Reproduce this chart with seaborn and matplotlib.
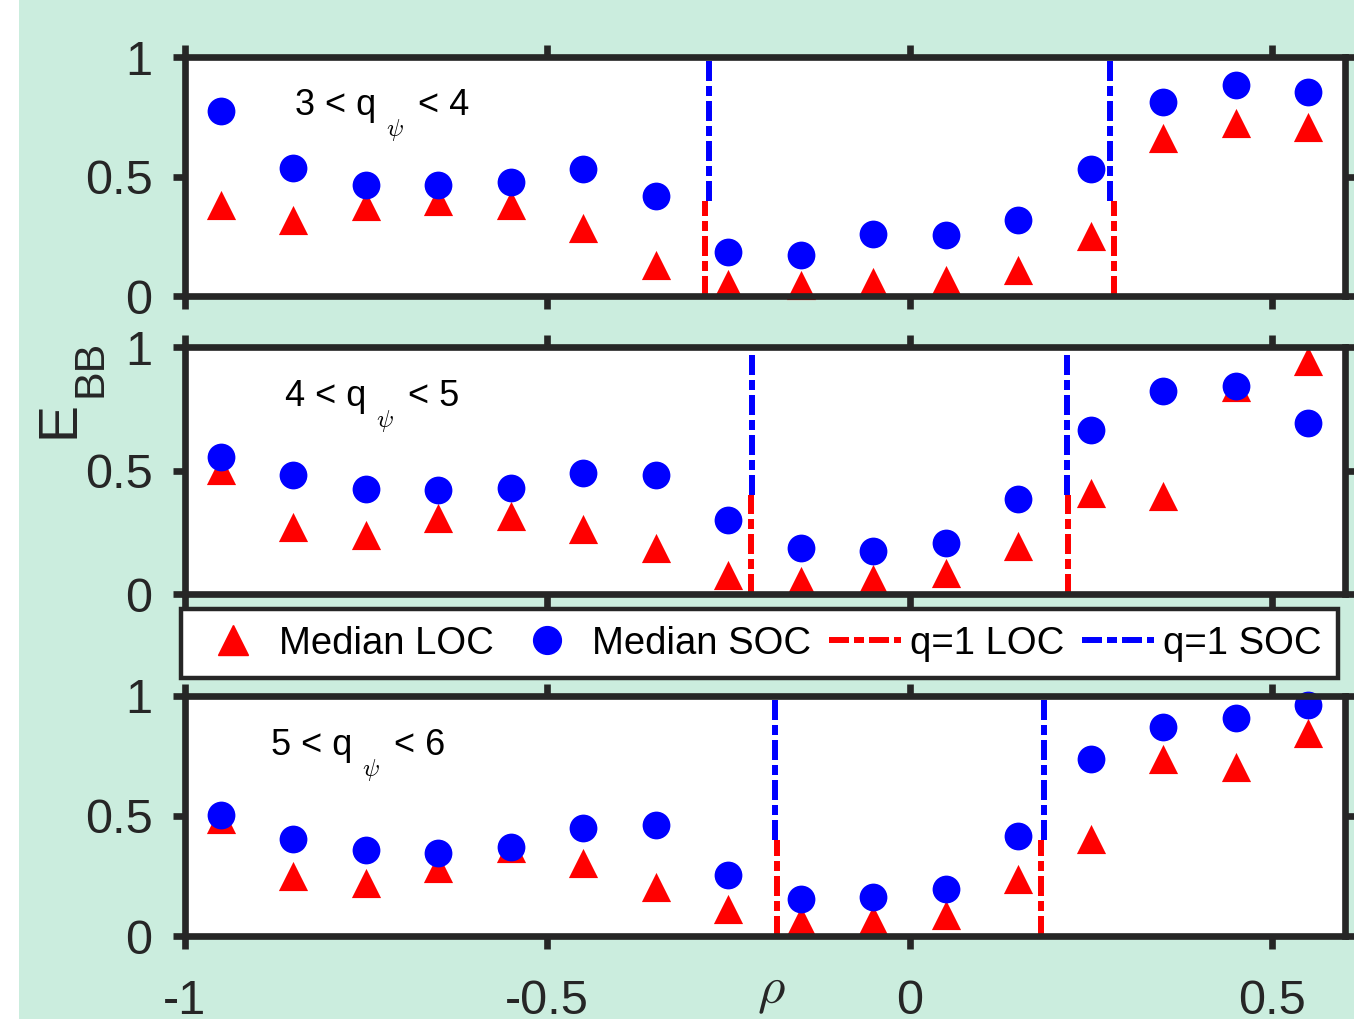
import numpy as np
import pandas as pd
import matplotlib
matplotlib.use("Agg")
import matplotlib.pyplot as plt
import seaborn as sns
from matplotlib.lines import Line2D
from matplotlib.patches import Rectangle

# ---------------- data ----------------
rho = [-0.95, -0.85, -0.75, -0.65, -0.55, -0.45, -0.35, -0.25,
       -0.15, -0.05, 0.05, 0.15, 0.25, 0.35, 0.45, 0.55]

loc_q34 = [0.38, 0.32, 0.378, 0.397, 0.383, 0.284, 0.131, 0.05,
           0.045, 0.057, 0.068, 0.108, 0.253, 0.663, 0.725, 0.708]
soc_q34 = [0.775, 0.538, 0.465, 0.464, 0.479, 0.532, 0.42, 0.183,
           0.17, 0.26, 0.254, 0.318, 0.531, 0.811, 0.885, 0.853]

loc_q45 = [0.504, 0.271, 0.24, 0.308, 0.316, 0.265, 0.188, 0.075,
           0.051, 0.059, 0.087, 0.195, 0.41, 0.397, 0.839, 0.944]
soc_q45 = [0.557, 0.482, 0.426, 0.423, 0.428, 0.49, 0.482, 0.301,
           0.186, 0.174, 0.205, 0.385, 0.665, 0.822, 0.843, 0.692]

loc_q56 = [0.488, 0.25, 0.219, 0.283, 0.366, 0.303, 0.203, 0.114,
           0.062, 0.068, 0.087, 0.237, 0.402, 0.737, 0.703, 0.844]
soc_q56 = [0.504, 0.404, 0.359, 0.347, 0.372, 0.451, 0.463, 0.252,
           0.155, 0.164, 0.197, 0.418, 0.737, 0.871, 0.907, 0.96]

q1_loc_q34 = [-0.282, 0.2825]
q1_soc_q34 = [-0.277, 0.276]
q1_loc_q45 = [-0.219, 0.219]
q1_soc_q45 = [-0.217, 0.2175]
q1_loc_q56 = [-0.183, 0.182]
q1_soc_q56 = [-0.185, 0.185]
q1_split = 0.4

q_low = [3, 4, 5]
q_high = [4, 5, 6]
legend_labels = ["Median LOC", "Median SOC", "q=1 LOC", "q=1 SOC"]
xticks = [-1, -0.5, 0, 0.5]
xticklabels = ["-1", "-0.5", "0", "0.5"]
yticks = [0, 0.5, 1]
yticklabels = ["0", "0.5", "1"]

panels = [
    (loc_q34, soc_q34, q1_loc_q34, q1_soc_q34),
    (loc_q45, soc_q45, q1_loc_q45, q1_soc_q45),
    (loc_q56, soc_q56, q1_loc_q56, q1_soc_q56),
]

# ---------------- style ----------------
sns.set_theme(style="white")
plt.rcParams["font.family"] = ["Liberation Sans", "DejaVu Sans"]
plt.rcParams["mathtext.fontset"] = "cm"
plt.rcParams["lines.scale_dashes"] = False

GREEN = "#cbedde"
DARK = "#262626"
DASHDOT = (0, (14.4, 3.6, 7.2, 3.6))

W, H = 1354, 1019
fig = plt.figure(figsize=(W / 100, H / 100), dpi=100)
fig.patch.set_facecolor(GREEN)
fig.add_artist(Rectangle((0, 0), 19 / W, 1, transform=fig.transFigure,
                         facecolor="white", edgecolor="none", zorder=-5))

# axes rectangles in pixels: (top, bottom)
rows = [(57.3, 296.0), (347.3, 594.0), (695.7, 936.0)]
left_px, right_px = 184.5, 1344.5
text_pos = [(-0.848, 0.758), (-0.862, 0.762), (-0.881, 0.753)]

axes = []
for i, ((top, bot), (loc, soc, qloc, qsoc)) in enumerate(zip(rows, panels)):
    ax = fig.add_axes([left_px / W, 1 - bot / H,
                       (right_px - left_px) / W, (bot - top) / H])
    ax.set_facecolor("white")
    df = pd.DataFrame({"rho": rho, "LOC": loc, "SOC": soc})
    sns.scatterplot(data=df, x="rho", y="LOC", marker="^", color="#ff0000",
                    s=441, linewidth=0, ax=ax, clip_on=False, legend=False)
    sns.scatterplot(data=df, x="rho", y="SOC", marker="o", color="#0000ff",
                    s=400, linewidth=0, ax=ax, clip_on=False, legend=False)
    ax.vlines(qloc, 0, q1_split, colors="#ff0000", linestyles=DASHDOT,
              linewidth=4.3)
    ax.vlines(qsoc, q1_split, 1, colors="#0000ff", linestyles=DASHDOT,
              linewidth=4.3)
    ax.set_xlim(-1, 0.6)
    ax.set_ylim(0, 1)
    ax.set_xticks(xticks)
    ax.set_yticks(yticks)
    ax.set_yticklabels(yticklabels)
    ax.set_xlabel("")
    ax.set_ylabel("")
    for sp in ax.spines.values():
        sp.set_visible(True)
        sp.set_linewidth(4.8)
        sp.set_color(DARK)
    ax.tick_params(axis="both", direction="out", length=9, width=4.8,
                   colors=DARK, labelcolor=DARK, labelsize=35,
                   top=True, right=True, bottom=True, left=True)
    ax.tick_params(axis="y", pad=14)
    ax.tick_params(axis="x", pad=22)
    if i < 2:
        ax.set_xticklabels([])
        ax.tick_params(axis="x", labelbottom=False)
    else:
        ax.set_xticklabels(xticklabels)
    tx, ty = text_pos[i]
    ax.text(tx, ty, f"{q_low[i]} < q", fontsize=26, ha="left",
            va="baseline", color="black")
    ax.annotate(r"$\psi$", xy=(tx, ty), xycoords="data", xytext=(66, -15),
                textcoords="offset points", fontsize=18, ha="left",
                va="baseline", color="black")
    ax.annotate(f"< {q_high[i]}", xy=(tx, ty), xycoords="data",
                xytext=(89, 0), textcoords="offset points", fontsize=26,
                ha="left", va="baseline", color="black")
    axes.append(ax)

# axis labels
fig.text(60 / W, 1 - 420 / H, "E", rotation=90, fontsize=40, color=DARK,
         ha="center", va="center")
fig.text(90.5 / W, 1 - 368.5 / H, "BB", rotation=90, fontsize=31, color=DARK,
         ha="center", va="center")
fig.text(771 / W, 1 - 991 / H, r"$\rho$", fontsize=38, color=DARK,
         ha="center", va="center")

# legend
handles = [
    Line2D([], [], marker="^", color="#ff0000", linestyle="none", markersize=21),
    Line2D([], [], marker="o", color="#0000ff", linestyle="none", markersize=20),
    Line2D([], [], color="#ff0000", linestyle=DASHDOT, linewidth=4.3),
    Line2D([], [], color="#0000ff", linestyle=DASHDOT, linewidth=4.3),
]
leg = fig.legend(handles, legend_labels, loc="center",
                 bbox_to_anchor=(181 / W, 1 - 680 / H, (1338 - 181) / W, 73 / H),
                 mode="expand", ncol=4, fontsize=27.5, frameon=True,
                 fancybox=False, edgecolor=DARK, facecolor="white",
                 framealpha=1, handlelength=1.9, handletextpad=0.24,
                 columnspacing=0.3, borderpad=0.42, borderaxespad=0)
leg.get_frame().set_linewidth(3.2)
for t in leg.get_texts():
    t.set_color("black")

fig.savefig("out.png", dpi=100, facecolor=fig.get_facecolor())
